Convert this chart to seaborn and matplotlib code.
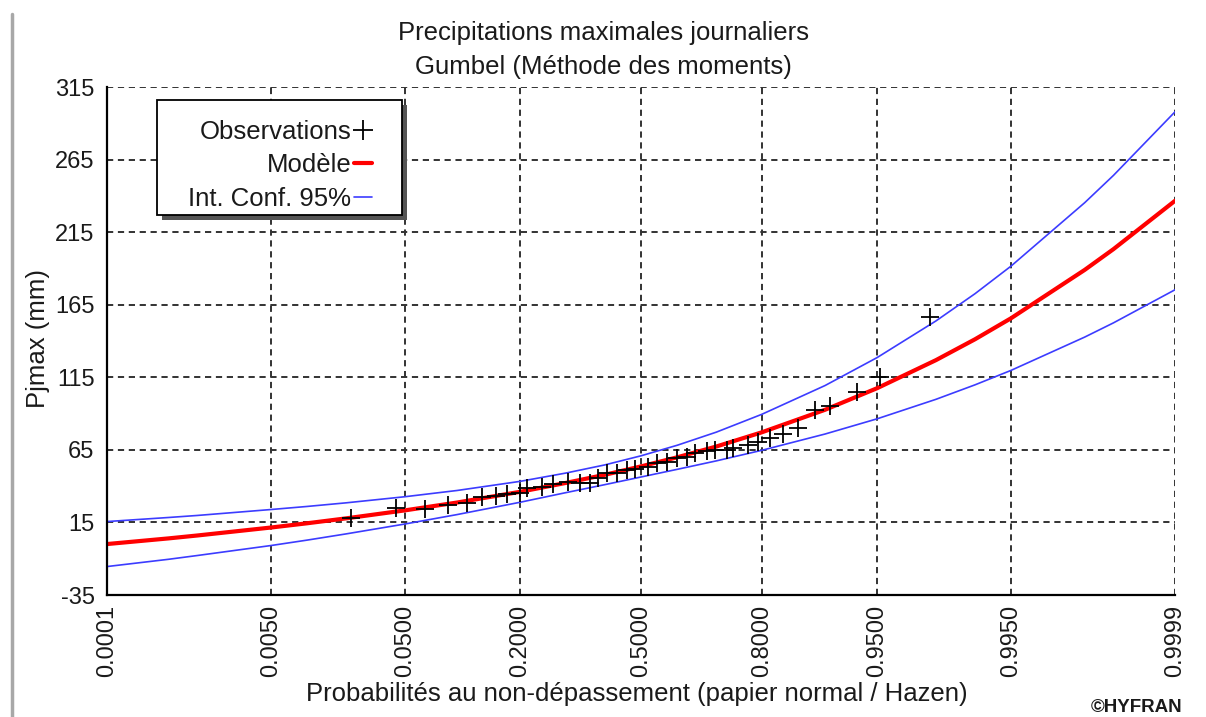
from statistics import NormalDist
import numpy as np
import pandas as pd
import matplotlib
matplotlib.use("Agg")
import matplotlib.pyplot as plt
from matplotlib.lines import Line2D
from matplotlib.patches import Rectangle
import seaborn as sns

# ----------------- DATA -----------------
obs_prob = [0.0217, 0.0440, 0.0663, 0.0895, 0.1128, 0.1340, 0.1560, 0.1750,
            0.2000, 0.2137, 0.2453, 0.2700, 0.3057, 0.3355, 0.3613, 0.3824,
            0.4065, 0.4337, 0.4612, 0.4833, 0.5194, 0.5443, 0.5718, 0.5990,
            0.6257, 0.6466, 0.6770, 0.6970, 0.7254, 0.7390, 0.7720, 0.7924,
            0.8155, 0.8387, 0.8628, 0.8872, 0.9060, 0.9337, 0.9520, 0.9779]
obs_value = [18.2, 25.1, 24.4, 27.1, 28.5, 32.6, 33.3, 34.7,
             35.4, 38.8, 39.5, 41.6, 43.0, 42.3, 42.3, 45.7,
             49.2, 49.2, 51.2, 51.9, 53.3, 56.0, 56.7, 59.5,
             60.2, 63.0, 64.3, 65.0, 65.0, 66.4, 68.4, 70.5,
             73.3, 76.0, 80.2, 92.6, 95.3, 105.0, 115.3, 156.6]

curve_prob = [0.0001, 0.0005, 0.001, 0.005, 0.01, 0.02, 0.05, 0.1, 0.2, 0.3,
              0.4, 0.5, 0.6, 0.7, 0.8, 0.9, 0.95, 0.98, 0.99, 0.995,
              0.999, 0.9995, 0.9999]
model_value = [0.1, 4.0, 6.0, 11.5, 14.4, 17.8, 23.3, 28.7, 36.1, 42.2,
               47.8, 53.6, 59.9, 67.3, 77.1, 92.6, 107.5, 126.8, 141.2, 155.6,
               189.0, 203.3, 236.6]
ci_upper = [15.6, 18.4, 19.8, 23.9, 26.0, 28.5, 32.7, 37.0, 43.3, 49.0,
            54.6, 60.9, 68.2, 77.2, 89.5, 109.3, 128.6, 153.8, 172.6, 191.5,
            235.3, 254.1, 297.9]
ci_lower = [-15.4, -10.4, -7.8, -0.9, 2.8, 7.1, 13.9, 20.4, 28.9, 35.5,
            41.0, 46.3, 51.6, 57.4, 64.7, 75.9, 86.4, 99.8, 109.8, 119.7,
            142.7, 152.5, 175.3]

prob_ticks = [0.0001, 0.005, 0.05, 0.2, 0.5, 0.8, 0.95, 0.995, 0.9999]
prob_labels = [f"{p:.4f}" for p in prob_ticks]
y_ticks = list(range(-35, 316, 50))
y_minor = list(range(-10, 316, 50))

# ----------------- NORMAL PROBABILITY PAPER -----------------
_nd = NormalDist()
_ppf = np.vectorize(_nd.inv_cdf, otypes=[float])
_cdf = np.vectorize(_nd.cdf, otypes=[float])


def to_normal(p):
    p = np.clip(np.asarray(p, dtype=float), 1e-9, 1 - 1e-9)
    return _ppf(p)


def from_normal(z):
    return _cdf(np.asarray(z, dtype=float))


curves = pd.DataFrame({"p": curve_prob, "model": model_value,
                       "upper": ci_upper, "lower": ci_lower})
obs = pd.DataFrame({"p": obs_prob, "value": obs_value})

# ----------------- PLOTTING -----------------
sns.set_style("white")
plt.rcParams["font.family"] = ["Liberation Sans", "DejaVu Sans"]
plt.rcParams["axes.unicode_minus"] = False
text_color = "#1a1a1a"
fs = 18.5
tick_fs = 17

W, H = 1206, 717
fig = plt.figure(figsize=(W / 100, H / 100), dpi=100)
ax = fig.add_axes([107 / W, 1 - 595 / H, 1068 / W, 508 / H])
ax.set_xscale("function", functions=(to_normal, from_normal))
ax.set_xlim(0.0001, 0.9999)
ax.set_ylim(-35, 315)

blue = "#3c3cff"
sns.lineplot(data=curves, x="p", y="upper", color=blue, lw=1.2,
             estimator=None, sort=False, ax=ax)
sns.lineplot(data=curves, x="p", y="lower", color=blue, lw=1.2,
             estimator=None, sort=False, ax=ax)
sns.lineplot(data=curves, x="p", y="model", color="#ff0000", lw=3.0,
             estimator=None, sort=False, ax=ax)
sns.scatterplot(data=obs, x="p", y="value", marker="+", color="black",
                s=170, linewidth=1.3, ax=ax, zorder=3)

ax.set_xticks(prob_ticks)
ax.set_xticklabels(prob_labels, rotation=90, va="top", ha="center")
ax.xaxis.set_minor_locator(matplotlib.ticker.NullLocator())
ax.set_yticks(y_ticks)
ax.set_yticks(y_minor, minor=True)
ax.tick_params(axis="both", which="major", direction="inout", length=10,
               width=1.1, color="black", labelsize=tick_fs,
               labelcolor=text_color)
ax.tick_params(axis="y", which="minor", direction="out", length=5,
               width=1.1, color="black")
ax.tick_params(axis="x", pad=2)
ax.tick_params(axis="y", pad=4)

ax.set_axisbelow(True)
ax.grid(True, which="major", color="#333333", ls=(0, (3.2, 2.4)), lw=1.4)
for side in ["top", "right"]:
    ax.spines[side].set_visible(False)
for side in ["left", "bottom"]:
    ax.spines[side].set_color("black")
    ax.spines[side].set_linewidth(1.6)
ax.set_xlabel("")
ax.set_ylabel("")

# legend box with shadow (drawn in figure pixels)
box_l, box_t, box_r, box_b = 157, 100, 402, 215
fig.add_artist(Rectangle((box_l + 5, H - box_b - 5), box_r - box_l,
                         box_b - box_t, transform=None, facecolor="#555555",
                         edgecolor="none", zorder=4))
fig.add_artist(Rectangle((box_l, H - box_b), box_r - box_l, box_b - box_t,
                         transform=None, facecolor="white",
                         edgecolor="black", lw=1.3, zorder=5))

handles = [
    Line2D([], [], marker="+", color="black", ls="none", markersize=14, mew=1.3),
    Line2D([], [], color="#ff0000", lw=3),
    Line2D([], [], color=blue, lw=1.2),
]
labels = ["Observations", "Modèle", "Int. Conf. 95%"]
leg = fig.legend(handles, labels, loc="upper right",
                 bbox_to_anchor=(372 / W, 1 - 120 / H), borderaxespad=0,
                 markerfirst=False, fontsize=fs, handlelength=0.7,
                 handletextpad=0.1, labelspacing=0.36, borderpad=0,
                 frameon=False)
leg.set_zorder(6)
for t in leg.get_texts():
    t.set_color(text_color)

# titles and axis labels
fig.text(0.5, 1 - 33 / H, "Precipitations maximales journaliers",
         ha="center", va="center", fontsize=fs, color=text_color)
fig.text(0.5, 1 - 67 / H, "Gumbel (Méthode des moments)",
         ha="center", va="center", fontsize=fs, color=text_color)
fig.text(637 / W, 1 - 694 / H,
         "Probabilités au non-dépassement (papier normal / Hazen)",
         ha="center", va="center", fontsize=fs, color=text_color)
fig.text(38 / W, 1 - 338 / H, "Pjmax (mm)", rotation=90,
         ha="center", va="center", fontsize=fs, color=text_color)
fig.text(1137 / W, 1 - 708 / H, "©HYFRAN", ha="center", va="center",
         fontsize=13.5, fontweight="bold", color=text_color)

# window frame edge on the left
fig.add_artist(Line2D([12 / W, 12 / W], [0, 1 - 14 / H],
                      color="#a8a8a8", lw=2.5))

fig.savefig("out.png", dpi=100)
